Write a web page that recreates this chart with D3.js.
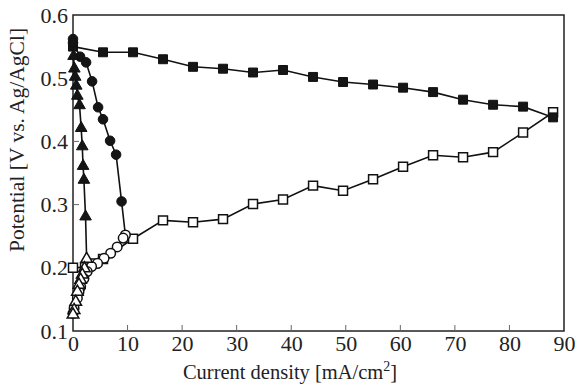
<!DOCTYPE html>
<html>
<head>
<meta charset="utf-8">
<script src="https://cdn.jsdelivr.net/npm/d3@7"></script>
<style>
  body { margin: 0; background: #fff; }
</style>
</head>
<body>
<svg width="576" height="384"></svg>
<script>
// tick labels
var xTicks = [0, 10, 20, 30, 40, 50, 60, 70, 80, 90];
var yTicks = [0.1, 0.2, 0.3, 0.4, 0.5, 0.6];

// squares: filled branch then open branch (from the turning point back)
var sqFilled = [[0, 0.550], [5.5, 0.541], [11, 0.541], [16.5, 0.530], [22, 0.518], [27.5, 0.515],
  [33, 0.509], [38.5, 0.513], [44, 0.502], [49.5, 0.494], [55, 0.490], [60.5, 0.485],
  [66, 0.478], [71.5, 0.466], [77, 0.458], [82.5, 0.455], [88, 0.438]];
var sqOpen = [[88, 0.446], [82.5, 0.414], [77, 0.383], [71.5, 0.375], [66, 0.378], [60.5, 0.360],
  [55, 0.340], [49.5, 0.322], [44, 0.330], [38.5, 0.308], [33, 0.301], [27.5, 0.277],
  [22, 0.272], [16.5, 0.275], [11, 0.246], [5.5, 0.214], [4.0, 0.207], [2.2, 0.201], [0, 0.200]];

// circles
var ciFilled = [[0, 0.562], [0, 0.556], [1.3, 0.534], [2.4, 0.525], [3.5, 0.495], [4.6, 0.454],
  [5.5, 0.435], [6.8, 0.401], [7.9, 0.379], [8.9, 0.305]];
var ciOpen = [[9.6, 0.252], [9.2, 0.247], [8.1, 0.233], [6.9, 0.223], [5.7, 0.215], [4.5, 0.207],
  [3.4, 0.202], [2.6, 0.194], [2.0, 0.183], [1.4, 0.170], [1.1, 0.162], [0.8, 0.152],
  [0.2, 0.136], [0, 0.128]];

// triangles
var trFilled = [[0.1, 0.535], [0.25, 0.515], [0.4, 0.502], [0.6, 0.488], [0.8, 0.472], [1.2, 0.457],
  [1.5, 0.421], [1.7, 0.392], [1.85, 0.361], [2.0, 0.339], [2.3, 0.281]];
var trOpen = [[2.5, 0.214], [2.1, 0.199], [1.7, 0.189], [1.4, 0.181], [1.1, 0.173], [0.8, 0.162],
  [0.5, 0.146], [0.2, 0.133], [0, 0.126]];

var font = "Liberation Serif, DejaVu Serif, serif";

var svg = d3.select("svg"),
  margin = { top: 15, right: 12, bottom: 53, left: 73 },
  width = +svg.attr("width") - margin.left - margin.right,
  height = +svg.attr("height") - margin.top - margin.bottom;

var x = d3.scaleLinear().domain([0, 90]).range([0, width]);
var y = d3.scaleLinear().domain([0.1, 0.6]).range([height, 0]);

var g = svg.append("g")
  .attr("transform", "translate(" + margin.left + "," + margin.top + ")");

// frame
g.append("rect")
  .attr("width", width).attr("height", height)
  .attr("fill", "none").attr("stroke", "#222").attr("stroke-width", 1.5);

// axes, ticks drawn inward separately
var xAxis = g.append("g")
  .attr("transform", "translate(0," + height + ")")
  .call(d3.axisBottom(x).tickValues(xTicks).tickSize(0).tickPadding(4).tickFormat(d3.format("d")));
var yAxis = g.append("g")
  .call(d3.axisLeft(y).tickValues(yTicks).tickSize(0).tickPadding(5).tickFormat(d3.format(".1f")));
[xAxis, yAxis].forEach(function (a) {
  a.attr("font-family", font).attr("font-size", 22);
  a.select(".domain").remove();
  a.selectAll("text").attr("fill", "#222");
});
xAxis.selectAll("text").attr("dy", "0.72em");

g.selectAll(".xt").data(xTicks.slice(1, -1)).enter().append("line")
  .attr("x1", function (d) { return x(d); }).attr("x2", function (d) { return x(d); })
  .attr("y1", height).attr("y2", height - 6)
  .attr("stroke", "#666").attr("stroke-width", 1);
g.selectAll(".yt").data(yTicks.slice(1, -1)).enter().append("line")
  .attr("y1", function (d) { return y(d); }).attr("y2", function (d) { return y(d); })
  .attr("x1", 0).attr("x2", 6)
  .attr("stroke", "#666").attr("stroke-width", 1);

// lines
var line = d3.line().x(function (d) { return x(d[0]); }).y(function (d) { return y(d[1]); });
var series = [
  { filled: sqFilled, open: sqOpen, shape: d3.symbolSquare, size: 80 },
  { filled: ciFilled, open: ciOpen, shape: d3.symbolCircle, size: 72 },
  { filled: trFilled, open: trOpen, shape: d3.symbolTriangle, size: 58 }
];

series.forEach(function (s) {
  g.append("path")
    .datum(s.filled.concat(s.open))
    .attr("d", line)
    .attr("fill", "none").attr("stroke", "#111").attr("stroke-width", 1.6);
});

series.forEach(function (s) {
  var sym = d3.symbol().type(s.shape).size(s.size);
  g.selectAll(null).data(s.open).enter().append("path")
    .attr("d", sym)
    .attr("transform", function (d) { return "translate(" + x(d[0]) + "," + y(d[1]) + ")"; })
    .attr("fill", "#fff").attr("stroke", "#111").attr("stroke-width", 1.5);
  g.selectAll(null).data(s.filled).enter().append("path")
    .attr("d", sym)
    .attr("transform", function (d) { return "translate(" + x(d[0]) + "," + y(d[1]) + ")"; })
    .attr("fill", "#151515").attr("stroke", "#111").attr("stroke-width", 1);
});

// axis titles
var xt = svg.append("text")
  .attr("x", 290).attr("y", 379)
  .attr("text-anchor", "middle").attr("font-family", font).attr("font-size", 20.5).attr("fill", "#222");
xt.append("tspan").text("Current density [mA/cm");
xt.append("tspan").attr("font-size", 14).attr("dy", -8).text("2");
xt.append("tspan").attr("dy", 8).text("]");

svg.append("text")
  .attr("transform", "translate(24,140) rotate(-90)")
  .attr("text-anchor", "middle").attr("font-family", font).attr("font-size", 21.5).attr("fill", "#222")
  .text("Potential [V vs. Ag/AgCl]");
</script>
</body>
</html>
